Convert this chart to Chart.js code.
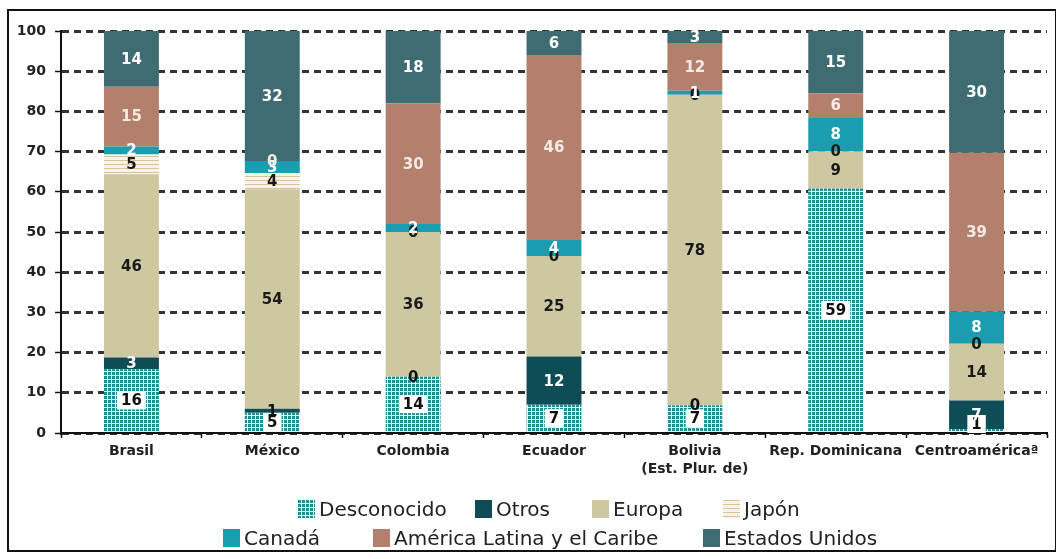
<!DOCTYPE html>
<html>
<head>
<meta charset="utf-8">
<script src="https://cdn.jsdelivr.net/npm/chart.js@4.4.1/dist/chart.umd.min.js"></script>
<style>
  html, body { margin: 0; padding: 0; background: #fff; }
  #wrap { position: relative; width: 1056px; height: 559px; overflow: hidden; background: #fff; }
  #myChart { position: absolute; left: 0; top: 0; }
  #frame { position: absolute; left: 7px; top: 9px; width: 1046px; height: 539px; border: 2px solid #111; pointer-events: none; }
  .lg { position: absolute; display: flex; align-items: center; font-family: 'DejaVu Sans'; font-size: 20px; line-height: 20px; color: #222; white-space: nowrap; }
  .lg canvas { width: 17px; height: 18px; margin-right: 4px; }
</style>
</head>
<body>
<div id="wrap">
  <canvas id="myChart" width="1056" height="559"></canvas>
  <div id="legend"></div>
  <div id="frame"></div>
</div>
<script>
// categories and series (percent shares, bottom to top of the stack)
const categories = ['Brasil', 'México', 'Colombia', 'Ecuador', ['Bolivia', '(Est. Plur. de)'], 'Rep. Dominicana', 'Centroaméricaª'];

const desconocido   = [16, 5, 14, 7, 7, 59, 1];
const otros         = [3, 1, 0, 12, 0, null, 7];
const europa        = [46, 54, 36, 25, 78, 9, 14];
const japon         = [5, 4, 0, 0, 0, 0, 0];
const canada        = [2, 3, 2, 4, 1, 8, 8];
const americaLatina = [15, 0, 30, 46, 12, 6, 39];
const estadosUnidos = [14, 32, 18, 6, 3, 15, 30];

const yTicks = [0, 10, 20, 30, 40, 50, 60, 70, 80, 90, 100];

const seriesNames = ['Desconocido', 'Otros', 'Europa', 'Japón', 'Canadá', 'América Latina y el Caribe', 'Estados Unidos'];
const seriesValues = [desconocido, otros, europa, japon, canada, americaLatina, estadosUnidos];

// legend layout (two rows like the original)
const legendPos = [
  { left: 298, top: 499 }, { left: 475, top: 499 }, { left: 592, top: 499 }, { left: 723, top: 499 },
  { left: 223, top: 528 }, { left: 373, top: 528 }, { left: 703, top: 528 }
];

function makeGridPattern() {
  const c = document.createElement('canvas');
  c.width = 4; c.height = 4;
  const g = c.getContext('2d');
  g.fillStyle = '#1f8f9a';
  g.fillRect(0, 0, 4, 4);
  g.fillStyle = '#e6f6f6';
  g.fillRect(3, 0, 1, 4);
  g.fillRect(0, 3, 4, 1);
  return c;
}

function makeStripePattern() {
  const c = document.createElement('canvas');
  c.width = 4; c.height = 4;
  const g = c.getContext('2d');
  g.fillStyle = '#f8f2e7';
  g.fillRect(0, 0, 4, 4);
  g.fillStyle = '#d9c39d';
  g.fillRect(0, 0, 4, 1);
  return c;
}

const ctx = document.getElementById('myChart');
const c2d = ctx.getContext('2d');
const gridPattern = c2d.createPattern(makeGridPattern(), 'repeat');
const stripePattern = c2d.createPattern(makeStripePattern(), 'repeat');

const fills = [gridPattern, '#0e4d56', '#cdc8a1', stripePattern, '#1b9db0', '#b3806e', '#3f6b73'];
const labelColors = ['#111', '#fff', '#1a1a1a', '#1a1a1a', '#fff', '#f6ebe4', '#fff'];

// totals per category, the chart is a 100% stacked column
const totals = categories.map((c, i) => seriesValues.reduce((s, arr) => s + (arr[i] || 0), 0));

const datasets = seriesValues.map((vals, d) => ({
  label: seriesNames[d],
  data: vals.map((v, i) => v === null ? null : v / totals[i] * 100),
  rawValues: vals,
  backgroundColor: fills[d],
  borderWidth: 0,
  barPercentage: 0.39,
  categoryPercentage: 1,
  labelColor: labelColors[d],
  labelBox: d === 0,
  darkSmall: d === 1
}));

const segmentLabels = {
  id: 'segmentLabels',
  afterDatasetsDraw(chart) {
    const g = chart.ctx;
    const bottom = chart.chartArea.bottom;
    g.save();
    g.font = 'bold 15px "DejaVu Sans"';
    g.textAlign = 'center';
    g.textBaseline = 'middle';
    chart.data.datasets.forEach((ds, d) => {
      const meta = chart.getDatasetMeta(d);
      meta.data.forEach((bar, i) => {
        const raw = ds.rawValues[i];
        if (raw === null) return;
        let y = (bar.y + bar.base) / 2;
        const text = String(raw);
        if (ds.labelBox) {
          y = Math.min(y, bottom - 9);
          const w = g.measureText(text).width + 8;
          g.fillStyle = '#fff';
          g.fillRect(bar.x - w / 2, y - 9, w, 18);
        }
        g.fillStyle = (ds.darkSmall && raw <= 1) ? '#111' : ds.labelColor;
        g.fillText(text, bar.x, y + 1);
      });
    });
    g.restore();
  }
};

Chart.defaults.font.family = 'DejaVu Sans';

const chart = new Chart(ctx, {
  type: 'bar',
  data: { labels: categories, datasets: datasets },
  options: {
    responsive: false,
    animation: false,
    devicePixelRatio: 1,
    layout: { padding: { top: 31, right: 9, left: 0, bottom: 0 } },
    plugins: {
      legend: { display: false },
      tooltip: { enabled: false }
    },
    scales: {
      x: {
        stacked: true,
        grid: { display: true, drawOnChartArea: false, drawTicks: true, tickLength: 5, offset: true, color: '#111', tickWidth: 1.5 },
        border: { display: true, color: '#111', width: 2 },
        ticks: { color: '#222', font: { size: 14, weight: 'bold', lineHeight: 1.3 }, padding: 4, maxRotation: 0, autoSkip: false },
        afterFit: s => { s.height = 126; }
      },
      y: {
        stacked: true,
        min: 0,
        max: 100,
        afterBuildTicks: s => { s.ticks = yTicks.map(v => ({ value: v })); },
        ticks: { color: '#222', font: { size: 14, weight: 'bold' }, padding: 9 },
        grid: { color: '#333', lineWidth: 3, tickLength: 6, tickColor: '#111', tickWidth: 1.5 },
        border: { display: true, color: '#111', width: 2, dash: [7, 5] },
        afterFit: s => { s.width = 61; }
      }
    }
  },
  plugins: [segmentLabels]
});

// html legend
const legendEl = document.getElementById('legend');
seriesNames.forEach((name, d) => {
  const item = document.createElement('div');
  item.className = 'lg';
  item.style.left = legendPos[d].left + 'px';
  item.style.top = legendPos[d].top + 'px';
  const sw = document.createElement('canvas');
  sw.width = 17; sw.height = 18;
  const sg = sw.getContext('2d');
  sg.fillStyle = d === 0 ? sg.createPattern(makeGridPattern(), 'repeat') : d === 3 ? sg.createPattern(makeStripePattern(), 'repeat') : fills[d];
  sg.fillRect(0, 0, 17, 18);
  item.appendChild(sw);
  item.appendChild(document.createTextNode(name));
  legendEl.appendChild(item);
});
</script>
</body>
</html>
